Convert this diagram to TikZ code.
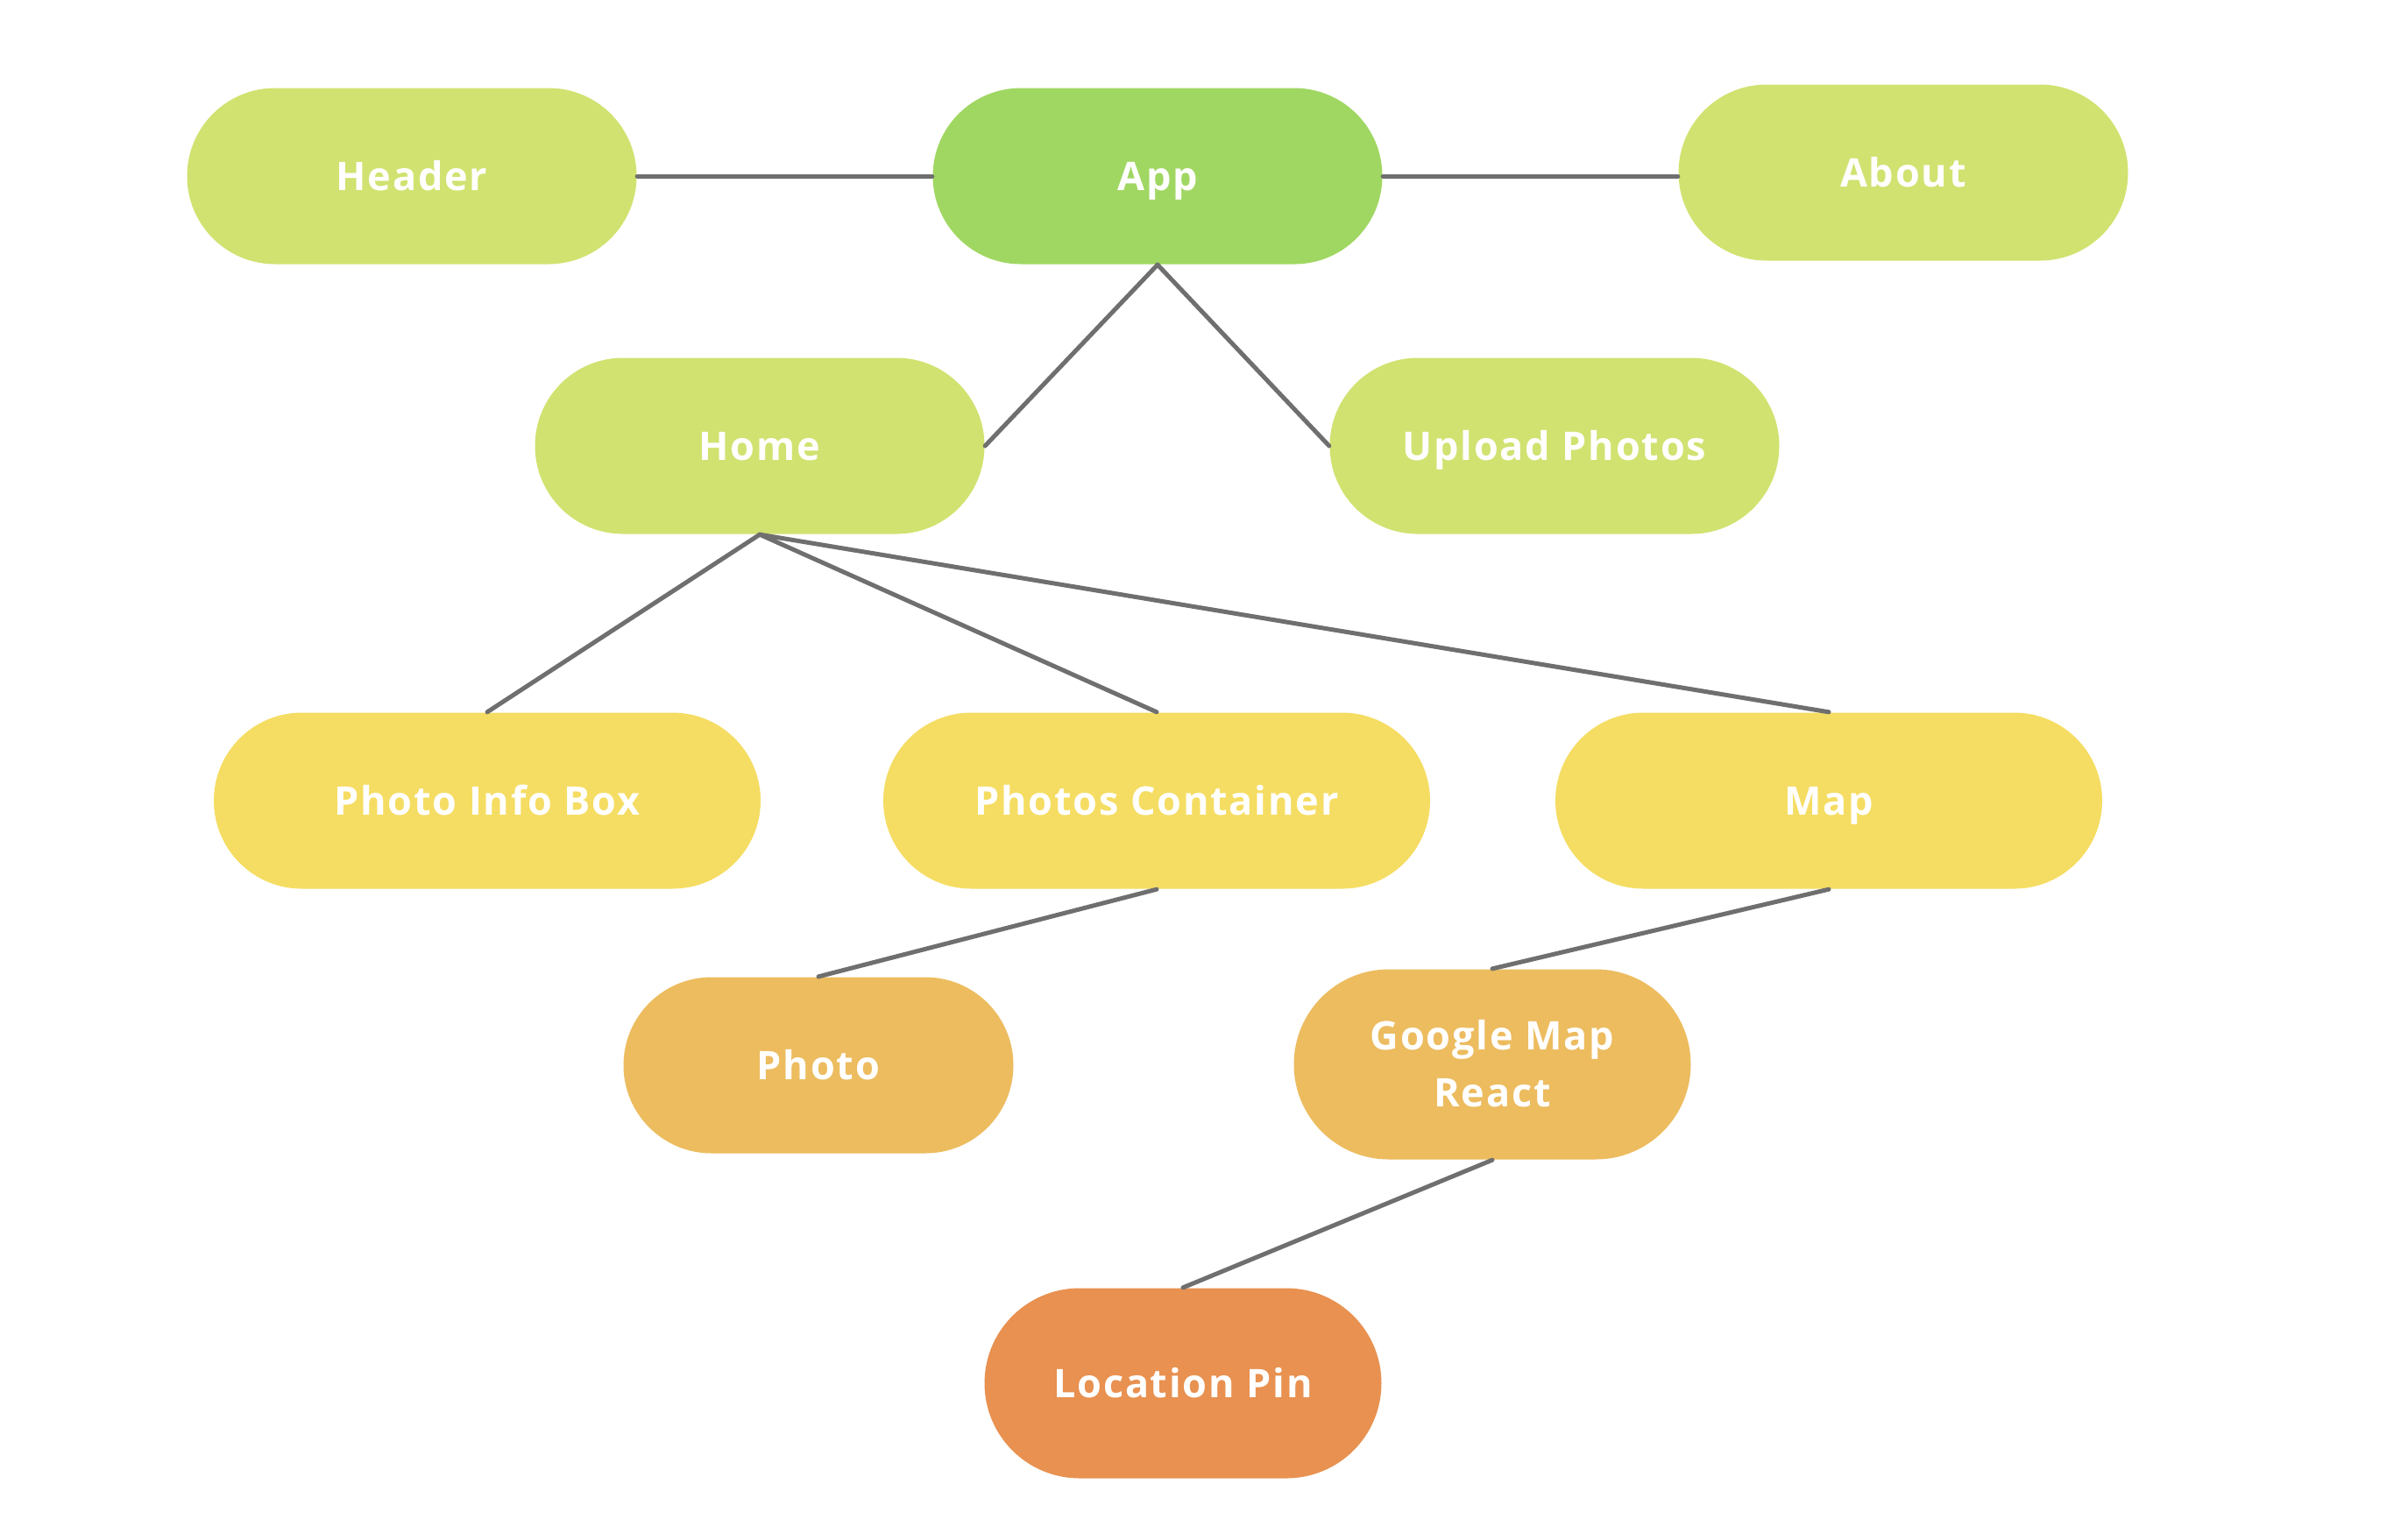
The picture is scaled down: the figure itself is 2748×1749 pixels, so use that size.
\documentclass[tikz,border=0pt]{standalone}
\usepackage{fontspec}
\setmainfont{Open Sans}[LetterSpace=4]
\usetikzlibrary{shapes.misc}
\definecolor{lgreen}{HTML}{D1E270}
\definecolor{appgreen}{HTML}{A0D762}
\definecolor{cyellow}{HTML}{F5DD63}
\definecolor{corange}{HTML}{ECBC5F}
\definecolor{cpin}{HTML}{E89150}
\definecolor{cline}{HTML}{6F6F6F}
\tikzset{
  pill/.style={rounded rectangle, draw=none, text=white, inner sep=0pt,
    font=\bfseries\fontsize{13.5}{19.3}\selectfont, align=center,
    minimum height=60.3pt, text height=9.64pt, text depth=0pt},
  w513/.style={minimum width=153.9pt},
  w624/.style={minimum width=187.2pt},
  w445/.style={minimum width=133.5pt},
  w453/.style={minimum width=135.9pt, minimum height=65.1pt},
  twoline/.style={text height=28.94pt, text depth=0pt},
  link/.style={draw=cline, line width=1.5pt, line cap=round},
}
\begin{document}
\begin{tikzpicture}[x=0.3pt,y=-0.3pt]
\useasboundingbox (0,0) rectangle (2748,1749);
\node[pill,w513,fill=lgreen] (header) at (470,201) {Header};
\node[pill,w513,fill=appgreen] (app) at (1321,201) {App};
\node[pill,w513,fill=lgreen] (about) at (2172,197) {About};
\node[pill,w513,fill=lgreen] (home) at (867,509) {Home};
\node[pill,w513,fill=lgreen] (upload) at (1774,509) {Upload Photos};
\node[pill,w624,fill=cyellow] (infobox) at (556,914) {Photo Info Box};
\node[pill,w624,fill=cyellow] (container) at (1320,914) {Photos Container};
\node[pill,w624,fill=cyellow] (map) at (2087,914) {Map};
\node[pill,w445,fill=corange] (photo) at (934,1216) {Photo};
\node[pill,w453,twoline,fill=corange] (gmr) at (1703,1215) {Google Map\\React};
\node[pill,w453,fill=cpin] (pin) at (1350,1579) {Location Pin};
\draw[link] (header.east) -- (app.west);
\draw[link] (app.east) -- (about.west |- app.east);
\draw[link] (app.south) -- (home.east);
\draw[link] (app.south) -- (upload.west);
\draw[link] (home.south) -- (infobox.north);
\draw[link] (home.south) -- (container.north);
\draw[link] (home.south) -- (map.north);
\draw[link] (container.south) -- (photo.north);
\draw[link] (map.south) -- (gmr.north);
\draw[link] (gmr.south) -- (pin.north);
\end{tikzpicture}
\end{document}
